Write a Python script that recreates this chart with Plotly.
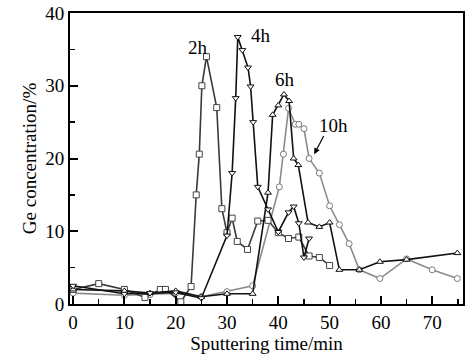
import plotly.graph_objects as go

x_2h = [0, 5, 10, 14, 17, 18, 21, 23, 24, 24.6, 25.1, 26, 28, 29, 30, 31, 32, 34, 36, 38, 40, 42, 44, 46, 48, 50]
y_2h = [2.0, 2.8, 2.0, 0.9, 2.0, 2.0, 0.3, 2.4, 15.0, 20.6, 30.0, 34.0, 27.0, 13.1, 9.8, 11.8, 8.6, 7.5, 11.4, 11.5, 9.8, 9.0, 9.2, 6.6, 6.4, 5.3]

x_4h = [0, 10, 15, 20, 25, 30, 31, 31.7, 32.1, 33, 34.1, 34.6, 35.1, 36, 38, 40, 42, 43, 44, 45, 46]
y_4h = [2.5, 1.4, 1.5, 1.6, 0.8, 9.4, 18.0, 28.3, 36.7, 34.9, 32.5, 29.9, 25.0, 16.1, 13.0, 9.9, 12.6, 13.4, 11.1, 6.4, 9.0]

x_6h = [0, 10, 15, 20, 25, 30, 35, 38, 38.9, 40, 41.1, 42.1, 43, 43.9, 45.8, 48, 50, 51.9, 55.8, 59.8, 65, 74.9]
y_6h = [2.0, 1.8, 1.5, 1.8, 1.0, 1.4, 1.4, 15.3, 26.0, 27.3, 28.8, 27.9, 20.0, 19.1, 11.2, 10.6, 11.2, 4.7, 4.7, 5.8, 6.1, 7.0]

x_10h = [0, 10, 15, 20, 25, 30, 35, 40.2, 41, 42, 43.3, 44, 45, 46, 48, 50, 51.9, 53.8, 55.8, 59.8, 65, 70, 74.9]
y_10h = [1.5, 1.2, 1.3, 1.5, 1.0, 1.7, 2.5, 16.1, 20.6, 26.9, 24.7, 24.7, 24.1, 20.0, 18.0, 13.5, 10.9, 8.3, 4.7, 3.5, 6.2, 4.7, 3.5]

FONT = "Liberation Serif, Times New Roman, serif"

fig = go.Figure()

def add(x, y, name, color, mcolor, symbol):
    fig.add_trace(go.Scatter(
        x=x, y=y, name=name, mode="lines+markers",
        line=dict(color=color, width=1.6),
        marker=dict(symbol=symbol, size=6, color="white",
                    line=dict(color=mcolor, width=1)),
    ))

add(x_10h, y_10h, "10h", "#8c8c8c", "#7a7a7a", "circle")
add(x_2h, y_2h, "2h", "#3a3a3a", "#444444", "square")
add(x_6h, y_6h, "6h", "#111111", "#111111", "triangle-up")
add(x_4h, y_4h, "4h", "#111111", "#111111", "triangle-down")

ann_font = dict(family=FONT, size=19, color="black")
fig.add_annotation(x=24.4, y=35.3, text="2h", showarrow=False, font=ann_font)
fig.add_annotation(x=36.6, y=36.9, text="4h", showarrow=False, font=ann_font)
fig.add_annotation(x=41.3, y=30.9, text="6h", showarrow=False, font=ann_font)
fig.add_annotation(x=47.0, y=20.6, ax=49.0, ay=23.3, axref="x", ayref="y",
                   text="", showarrow=True, arrowhead=2, arrowsize=1,
                   arrowwidth=1.2, arrowcolor="black")
fig.add_annotation(x=50.8, y=24.5, text="10h", showarrow=False, font=ann_font)

fig.update_layout(
    width=466, height=359,
    margin=dict(l=70, r=3, t=13, b=55),
    paper_bgcolor="white", plot_bgcolor="white",
    showlegend=False,
    font=dict(family=FONT, size=18, color="black"),
    xaxis=dict(
        range=[-0.6, 76], showline=True, linecolor="black", linewidth=2,
        mirror=True, showgrid=False, zeroline=False, automargin=False,
        tickmode="array", tickvals=[0, 10, 20, 30, 40, 50, 60, 70],
        ticks="inside", ticklen=8, tickwidth=2, tickcolor="black",
        minor=dict(tickvals=[5, 15, 25, 35, 45, 55, 65, 75], ticks="inside",
                   ticklen=5, tickwidth=1.5, tickcolor="black"),
        tickfont=dict(family=FONT, size=19),
        title=dict(text="Sputtering time/min", font=dict(family=FONT, size=19), standoff=0),
    ),
    yaxis=dict(
        range=[0, 40], showline=True, linecolor="black", linewidth=2,
        mirror=True, showgrid=False, zeroline=False, automargin=False,
        tickmode="array", tickvals=[0, 10, 20, 30, 40],
        ticks="inside", ticklen=8, tickwidth=2, tickcolor="black",
        minor=dict(tickvals=[5, 15, 25, 35], ticks="inside",
                   ticklen=5, tickwidth=1.5, tickcolor="black"),
        tickfont=dict(family=FONT, size=19),
        title=dict(text="Ge concentration/%", font=dict(family=FONT, size=19), standoff=4),
    ),
)

fig.write_html("out.html",
               config={"displayModeBar": False, "staticPlot": True},
               post_script="document.body.style.margin='0';document.body.style.overflow='hidden';")
